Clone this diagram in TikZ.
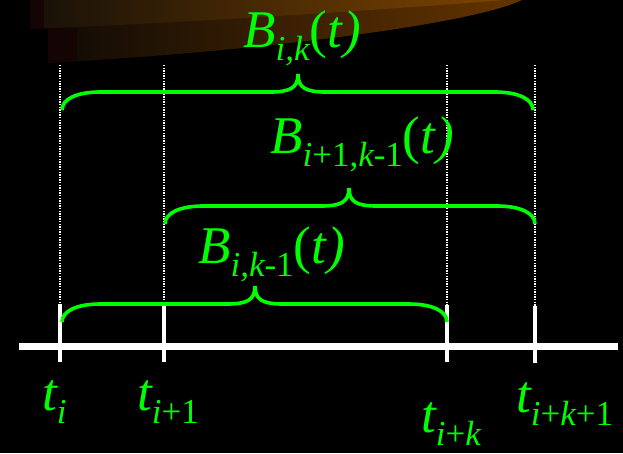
\documentclass[tikz,border=0pt]{standalone}
\usepackage{fontspec}
\setmainfont{Liberation Serif}
\definecolor{mygreen}{RGB}{0,255,0}
\definecolor{darkred}{RGB}{20,5,4}
\newcommand\bigsz{\fontsize{53}{53}\selectfont}
\newcommand\subsz{\fontsize{35}{35}\selectfont}
\newcommand\lbl[2]{{\bigsz\itshape #1}\raisebox{-13pt}{\subsz #2}}
\newcommand\mybrace[4]{%
  \pgfmathsetmacro\ya{#4+18}\pgfmathsetmacro\yt{#4-18}%
  \pgfmathsetmacro\xa{#1+38}\pgfmathsetmacro\xb{#2-38}%
  \pgfmathsetmacro\xc{#3-28}\pgfmathsetmacro\xd{#3+28}%
  \draw[bracestyle] (#1,\ya) .. controls (#1,\ya-11) and (#1+15,#4) .. (\xa,#4)
    -- (\xc,#4) .. controls (#3-8,#4) and (#3,#4-4) .. (#3,\yt)
    .. controls (#3,#4-4) and (#3+8,#4) .. (\xd,#4)
    -- (\xb,#4) .. controls (#2-15,#4) and (#2,\ya-11) .. (#2,\ya);
}
\tikzset{
  bracestyle/.style={draw=mygreen, line width=3.6pt},
  dotline/.style={draw=white, line width=1.3pt, dash pattern=on 1.3pt off 1.3pt},
  axisline/.style={draw=white, line width=7pt},
  tickline/.style={draw=white, line width=3.6pt},
  lab/.style={text=mygreen, inner sep=0pt, anchor=base west},
}
\begin{document}
\begin{tikzpicture}[x=1pt,y=-1pt]
\fill[black] (0,0) rectangle (623,453);
\useasboundingbox (0,0) rectangle (623,453);
% orange bands
\shade[left color={rgb,255:red,15;green,10;blue,5}, middle color={rgb,255:red,62;green,33;blue,4}, right color={rgb,255:red,100;green,52;blue,0}]
  (48,0) -- (48,63) .. controls (250,52) and (470,25) .. (522,0) -- cycle;
\fill[darkred] (48,28) rectangle (77,62);
\shade[left color={rgb,255:red,22;green,16;blue,8}, middle color={rgb,255:red,92;green,50;blue,5}, right color={rgb,255:red,125;green,68;blue,0}]
  (30,0) -- (30,29) .. controls (200,22) and (380,10) .. (505,0) -- cycle;
\fill[darkred] (30,0) rectangle (44,28.5);
% knots
\coordinate (k1) at (60,346);
\coordinate (k2) at (164,346);
\coordinate (k3) at (447,346);
\coordinate (k4) at (535,346);
\coordinate (a0) at (19,346);
\coordinate (a1) at (618,346);
\foreach \k in {k1,k2,k3,k4}{
  \draw[dotline] (\k |- 0,65) -- (\k |- 0,330);
}
\draw[axisline] (a0) -- (a1);
\draw[tickline] ([yshift=-16pt]k1) -- ([yshift=42pt]k1);
\draw[tickline] ([yshift=-16pt]k2) -- ([yshift=41pt]k2);
\draw[tickline] ([yshift=-16pt]k3) -- ([yshift=41pt]k3);
\draw[tickline] ([yshift=-17pt]k4) -- ([yshift=40pt]k4);
% braces
\mybrace{62}{533}{298}{92}
\mybrace{165}{535}{349}{206}
\mybrace{62}{447}{255}{304}
% labels
\node[lab] (b1) at (243,47) {\lbl{B}{\itshape i,k}{\bigsz(\itshape t\/)}};
\node[lab] (b2) at (270,153) {\lbl{B}{\itshape i\upshape+1,\itshape k\upshape-1}{\bigsz(\itshape t\/)}};
\node[lab] (b3) at (198,263) {\lbl{B}{\itshape i,k\upshape-1}{\bigsz(\itshape t\/)}};
\node[lab] (t1) at (42,410) {\lbl{t}{\itshape i}};
\node[lab] (t2) at (137,410) {\lbl{t}{\itshape i\upshape+1}};
\node[lab] (t3) at (421,432) {\lbl{t}{\itshape i\upshape+\itshape k}};
\node[lab] (t4) at (516,412) {\lbl{t}{\itshape i\upshape+\itshape k\upshape+1}};
\end{tikzpicture}
\end{document}
